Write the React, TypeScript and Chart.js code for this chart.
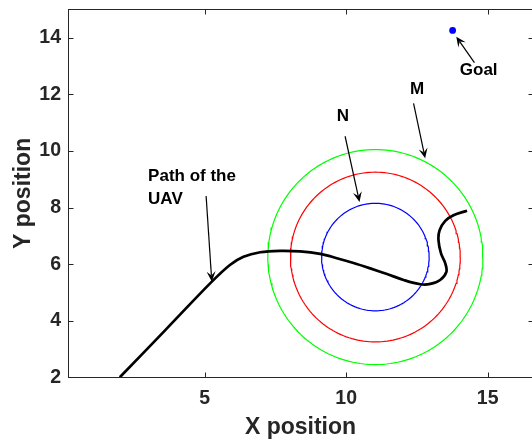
import React, { useEffect, useRef } from "react";
import { Chart, registerables } from "chart.js";

Chart.register(...registerables);

// ---- data ----
const xTicks = [5, 10, 15];
const yTicks = [2, 4, 6, 8, 10, 12, 14];
const xMin = 0.17;
const xMax = 16.6;
const yMin = 2;
const yMax = 15;

const pathX = [2.0, 3.6, 5.2, 5.89, 6.37, 6.96, 7.66, 8.37, 9.08, 9.67, 10.26, 10.85, 11.44, 12.03, 12.62, 12.97, 13.32, 13.54, 13.5, 13.35, 13.26, 13.3, 13.5, 13.79, 14.27];
const pathY = [2.0, 3.66, 5.33, 5.97, 6.26, 6.42, 6.47, 6.45, 6.36, 6.21, 6.04, 5.85, 5.65, 5.44, 5.29, 5.3, 5.44, 5.73, 6.03, 6.38, 6.85, 7.2, 7.53, 7.73, 7.89];

const zoneCenterX = 11.03;
const zoneCenterY = 6.25;
const zoneRadii = [1.9, 3.0, 3.8];
const zoneColors = ["#0000ff", "#ff0000", "#00ff00"];

const goalX = 13.76;
const goalY = 14.26;

const labelTexts = [["Path of the", "UAV"], ["N"], ["M"], ["Goal"]];
const labelX = [3.0, 9.88, 12.5, 14.68];
const labelY = [9.09, 11.21, 12.18, 12.86];
const labelAlign = ["left", "center", "center", "center"];
const arrowTailX = [5.05, 9.96, 12.38, 14.53];
const arrowTailY = [8.41, 10.52, 11.68, 13.12];
const arrowTipX = [5.25, 10.47, 12.79, 13.89];
const arrowTipY = [5.39, 8.2, 9.74, 14.04];

const FONT = '"Liberation Sans", Arial, Helvetica, sans-serif';
const TXT = "#262626";

const framePlugin = {
  id: "frame",
  afterDatasetsDraw(chart: any) {
    const { ctx, chartArea: a, scales } = chart;
    const x = scales.x;
    const y = scales.y;
    const L = Math.floor(a.left) + 0.5;
    const R = Math.floor(a.right) + 0.5;
    const T = Math.floor(a.top) + 0.5;
    const B = Math.floor(a.bottom) + 0.5;
    ctx.save();
    ctx.strokeStyle = TXT;
    ctx.lineWidth = 1;
    ctx.strokeRect(L, T, R - L, B - T);
    ctx.beginPath();
    const tl = 5;
    xTicks.forEach((v) => {
      const px = Math.round(x.getPixelForValue(v)) + 0.5;
      ctx.moveTo(px, B);
      ctx.lineTo(px, B - tl);
      ctx.moveTo(px, T);
      ctx.lineTo(px, T + tl);
    });
    yTicks.forEach((v) => {
      const py = Math.round(y.getPixelForValue(v)) + 0.5;
      ctx.moveTo(L, py);
      ctx.lineTo(L + tl, py);
      ctx.moveTo(R, py);
      ctx.lineTo(R - tl, py);
    });
    ctx.stroke();
    ctx.restore();
  },
};

const annotationPlugin = {
  id: "annot",
  afterDraw(chart: any) {
    const { ctx, scales } = chart;
    const x = scales.x;
    const y = scales.y;
    ctx.save();
    ctx.fillStyle = "#000";
    ctx.strokeStyle = "#000";
    ctx.font = `bold 17px ${FONT}`;
    ctx.textBaseline = "middle";
    labelTexts.forEach((lines, i) => {
      ctx.textAlign = labelAlign[i] as CanvasTextAlign;
      const px = x.getPixelForValue(labelX[i]);
      const py = y.getPixelForValue(labelY[i]);
      lines.forEach((t, k) => ctx.fillText(t, px, py + k * 22.6));
      const tx = x.getPixelForValue(arrowTailX[i]);
      const ty = y.getPixelForValue(arrowTailY[i]);
      const hx = x.getPixelForValue(arrowTipX[i]);
      const hy = y.getPixelForValue(arrowTipY[i]);
      const len = Math.hypot(hx - tx, hy - ty);
      const dx = (hx - tx) / len;
      const dy = (hy - ty) / len;
      const nx = -dy;
      const ny = dx;
      const HL = 10;
      const HW = 4.5;
      ctx.lineWidth = 1.2;
      ctx.beginPath();
      ctx.moveTo(tx, ty);
      ctx.lineTo(hx - dx * HL * 0.6, hy - dy * HL * 0.6);
      ctx.stroke();
      ctx.beginPath();
      ctx.moveTo(hx, hy);
      ctx.lineTo(hx - dx * HL + nx * HW, hy - dy * HL + ny * HW);
      ctx.lineTo(hx - dx * HL * 0.6, hy - dy * HL * 0.6);
      ctx.lineTo(hx - dx * HL - nx * HW, hy - dy * HL - ny * HW);
      ctx.closePath();
      ctx.fill();
    });
    ctx.restore();
  },
};

export default function App() {
  const ref = useRef<HTMLCanvasElement>(null);
  useEffect(() => {
    const canvas = ref.current!;
    const pathData = pathX.map((v, i) => ({ x: v, y: pathY[i] }));
    const circles = zoneRadii.map((r, i) => ({
      data: Array.from({ length: 181 }, (_, k) => {
        const ang = (k / 180) * 2 * Math.PI;
        return { x: zoneCenterX + r * Math.cos(ang), y: zoneCenterY + r * Math.sin(ang) };
      }),
      borderColor: zoneColors[i],
      backgroundColor: zoneColors[i],
      borderWidth: 1.2,
      pointRadius: 0,
      showLine: true,
      tension: 0,
      fill: false,
    }));
    const tickFont = { family: FONT, size: 19.5, weight: "bold" as const };
    const titleFont = { family: FONT, size: 23, weight: "bold" as const };
    const chart = new Chart(canvas, {
      type: "scatter",
      data: {
        datasets: [
          {
            data: pathData,
            borderColor: "#000",
            backgroundColor: "#000",
            borderWidth: 2.7,
            pointRadius: 0,
            showLine: true,
            tension: 0.35,
            fill: false,
          } as any,
          {
            data: [{ x: goalX, y: goalY }],
            borderColor: "#0000ff",
            backgroundColor: "#0000ff",
            pointRadius: 3.4,
            borderWidth: 0,
            showLine: false,
          },
          ...circles,
        ],
      },
      options: {
        responsive: false,
        animation: false,
        devicePixelRatio: 1,
        layout: { padding: { top: 9.5, right: 7, left: 0, bottom: 0 } },
        plugins: { legend: { display: false }, tooltip: { enabled: false } },
        scales: {
          x: {
            type: "linear",
            min: xMin,
            max: xMax,
            afterBuildTicks: (s: any) => {
              s.ticks = xTicks.map((v) => ({ value: v }));
            },
            afterFit: (s: any) => {
              s.height = 63.7;
              s.paddingLeft = 0;
              s.paddingRight = 0;
            },
            grid: { display: false, drawTicks: false },
            border: { display: false },
            ticks: { padding: 10, font: tickFont, color: TXT, maxRotation: 0, autoSkip: false },
            title: { display: true, text: "X position", font: titleFont, color: TXT, padding: { top: 0, bottom: 0 } },
          },
          y: {
            type: "linear",
            min: yMin,
            max: yMax,
            afterBuildTicks: (s: any) => {
              s.ticks = yTicks.map((v) => ({ value: v }));
            },
            afterFit: (s: any) => {
              s.width = 68;
              s.paddingTop = 0;
              s.paddingBottom = 0;
            },
            grid: { display: false, drawTicks: false },
            border: { display: false },
            ticks: { padding: 7, font: tickFont, color: TXT, autoSkip: false },
            title: { display: true, text: "Y position", font: titleFont, color: TXT, padding: { top: 10, bottom: 0 } },
          },
        },
      },
      plugins: [framePlugin, annotationPlugin],
    });
    return () => chart.destroy();
  }, []);
  return (
    <div style={{ position: "absolute", left: 0, top: 0, width: 532, height: 441, overflow: "hidden", background: "#fff" }}>
      <canvas ref={ref} width={540} height={441} style={{ display: "block" }} />
    </div>
  );
}
